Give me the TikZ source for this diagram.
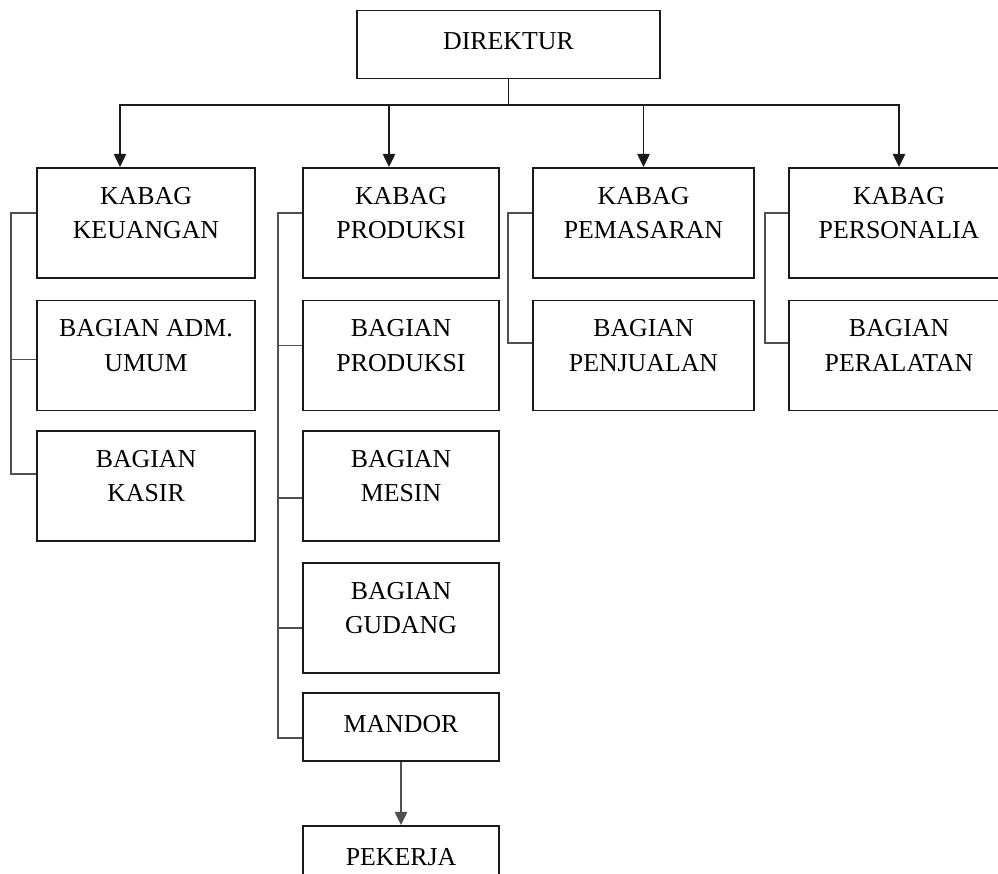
\documentclass[tikz,border=0pt]{standalone}
\usepackage{fontspec}
\setmainfont{Liberation Serif}
\usetikzlibrary{positioning, arrows.meta, calc}
\definecolor{orgLine}{HTML}{1A1A1A}
\definecolor{orgGray}{HTML}{505050}

\begin{document}
\begin{tikzpicture}[x=0.02cm, y=-0.02cm,
    font=\fontsize{14.7}{19.5}\selectfont,
    kotak/.style={draw=orgLine, line width=1.1pt, align=center,
                  minimum height=2.2cm, text depth=0.4cm},
    kotaksatu/.style={draw=orgLine, line width=1.1pt, minimum height=1.36cm,
                      text depth=0.14cm},
    garis/.style={draw=orgGray, line width=1.1pt},
    panah/.style={draw=orgLine, line width=1.1pt, -{Triangle[width=7pt,length=7.5pt]}}]
  \useasboundingbox (0,0) rectangle (998,874);
  % Pimpinan
  \node[kotaksatu, minimum width=6.06cm] (dir) at (508.5,44.5) {DIREKTUR};
  % Kepala bagian
  \node[kotak, minimum width=4.36cm] (keu) at (146,223) {KABAG\\KEUANGAN};
  \node[kotak, minimum width=3.92cm] (kprod) at (401,223) {KABAG\\PRODUKSI};
  \node[kotak, minimum width=4.42cm] (pem) at (643.5,223) {KABAG\\PEMASARAN};
  \node[kotak, minimum width=4.4cm] (per) at (899,223) {KABAG\\PERSONALIA};
  % Bagian di bawah keuangan
  \node[kotak, minimum width=4.36cm] (adm) at (146,355.5) {BAGIAN ADM.\\UMUM};
  \node[kotak, minimum width=4.36cm] (kas) at (146,486) {BAGIAN\\KASIR};
  % Bagian di bawah produksi
  \node[kotak, minimum width=3.92cm] (bprod) at (401,355.5) {BAGIAN\\PRODUKSI};
  \node[kotak, minimum width=3.92cm] (mes) at (401,486) {BAGIAN\\MESIN};
  \node[kotak, minimum width=3.92cm] (gud) at (401,618) {BAGIAN\\GUDANG};
  \node[kotaksatu, minimum width=3.92cm] (man) at (401,727) {MANDOR};
  \node[kotaksatu, minimum width=3.92cm] (pek) at (401,860) {PEKERJA};
  % Bagian di bawah pemasaran dan personalia
  \node[kotak, minimum width=4.42cm] (pen) at (643.5,355.5) {BAGIAN\\PENJUALAN};
  \node[kotak, minimum width=4.4cm] (pera) at (899,355.5) {BAGIAN\\PERALATAN};
  % Garis komando dari direktur
  \draw[panah] (dir.south) -- ++(0,26) -| ($(keu.north)+(-26,0)$);
  \draw[panah] (dir.south) -- ++(0,26) -| ($(kprod.north)+(-12,0)$);
  \draw[panah] (dir.south) -- ++(0,26) -| (pem.north);
  \draw[panah] (dir.south) -- ++(0,26) -| (per.north);
  % Garis samping tiap kolom
  \draw[garis] ([yshift=.2cm]keu.west) -- ++(-25,0) |- ([yshift=.24cm]kas.west);
  \draw[garis] ([yshift=-.08cm]adm.west) -- ++(-25,0);
  \draw[garis] ([yshift=.2cm]kprod.west) -- ++(-24,0) |- ([yshift=-.22cm]man.west);
  \draw[garis] ([yshift=.2cm]bprod.west) -- ++(-24,0);
  \draw[garis] ([yshift=-.24cm]mes.west) -- ++(-24,0);
  \draw[garis] ([yshift=-.2cm]gud.west) -- ++(-24,0);
  \draw[garis] ([yshift=.2cm]pem.west) -- ++(-24,0) |- ([yshift=.25cm]pen.west);
  \draw[garis] ([yshift=.2cm]per.west) -- ++(-23,0) |- ([yshift=.25cm]pera.west);
  % Mandor ke pekerja
  \draw[panah, draw=orgGray] (man.south) -- (pek.north);
\end{tikzpicture}
\end{document}
